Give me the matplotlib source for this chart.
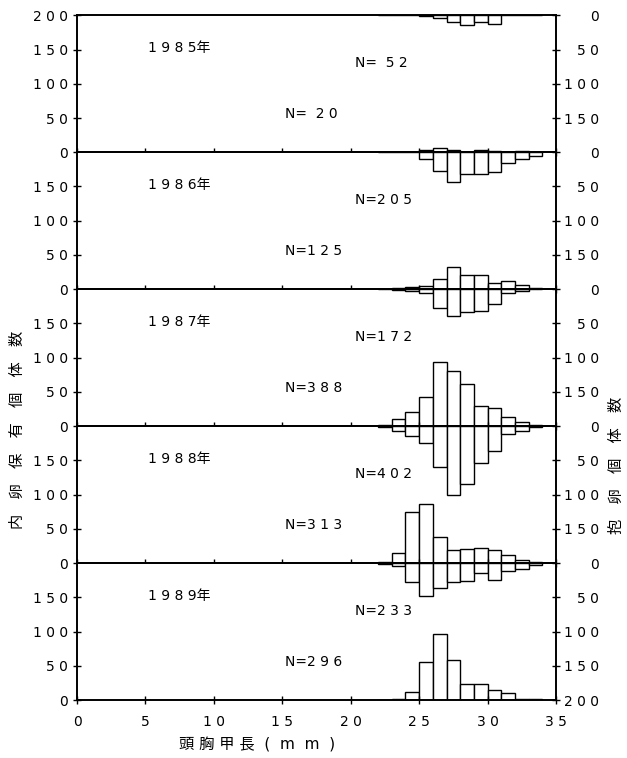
import numpy as np
import matplotlib.pyplot as plt

plt.rcParams['font.family'] = ['DejaVu Sans', 'Noto Sans CJK JP']
plt.rcParams['font.size'] = 10

years = ['1985', '1986', '1987', '1988', '1989']
bins = np.arange(22, 34)  # left edges of 1 mm classes

# 内卵保有個体数 (bars rising from the bottom of each panel, left axis)
inner = [
    [0, 0, 0, 3, 6, 3, 1, 3, 2, 0, 2, 0],
    [0, 1, 3, 5, 15, 32, 20, 20, 9, 12, 6, 2],
    [2, 10, 21, 43, 94, 80, 61, 30, 26, 13, 6, 2],
    [2, 14, 74, 86, 38, 19, 20, 22, 19, 12, 5, 2],
    [0, 1, 12, 55, 97, 58, 23, 23, 14, 10, 2, 1],
]
# 抱卵個体数 (bars hanging from the top of each panel, right axis)
berried = [
    [0, 0, 0, 1, 4, 10, 14, 10, 13, 0, 0, 0],
    [0, 0, 0, 10, 28, 44, 32, 32, 29, 15, 10, 5],
    [0, 1, 2, 6, 28, 39, 34, 32, 22, 6, 2, 0],
    [2, 7, 14, 25, 59, 100, 84, 54, 36, 12, 7, 2],
    [1, 4, 28, 48, 37, 27, 26, 15, 25, 11, 8, 3],
]
n_inner = [20, 125, 388, 313, 296]
n_berried = [52, 205, 172, 402, 233]


def spaced(s):
    return ' '.join(str(s))


def n_label(n):
    s = spaced(n)
    if n < 100:
        s = '  ' + s
    return 'N=' + s


cjk = ['Noto Sans CJK JP', 'DejaVu Sans']

fig, axes = plt.subplots(5, 1, sharex=True, figsize=(6.27, 7.58), dpi=100)
fig.subplots_adjust(left=77 / 627, right=556 / 627, top=1 - 15.3 / 758,
                    bottom=1 - 700 / 758, hspace=0)

for i, ax in enumerate(axes):
    up = np.array(inner[i])
    down = np.array(berried[i])
    ax.bar(bins, up, width=1, align='edge', color='white',
           edgecolor='black', linewidth=1.0)
    ax.bar(bins, down, width=1, align='edge', bottom=200 - down,
           color='white', edgecolor='black', linewidth=1.0)

    ax.set_xlim(0, 35)
    ax.set_ylim(0, 200)
    for sp in ax.spines.values():
        sp.set_linewidth(1.2)

    lticks = [0, 50, 100, 150] + ([200] if i == 0 else [])
    ax.set_yticks(lticks)
    ax.set_yticklabels([spaced(t) for t in lticks])
    ax.tick_params(axis='y', direction='inout', length=6, width=1)

    ax.set_xticks(range(0, 36, 5))
    ax.tick_params(axis='x', direction='inout', length=6, width=1, pad=8)

    tw = ax.twinx()
    tw.set_ylim(200, 0)
    rticks = [0, 50, 100, 150] + ([200] if i == 4 else [])
    tw.set_yticks(rticks)
    tw.set_yticklabels([spaced(t) for t in rticks])
    tw.tick_params(axis='y', direction='inout', length=6, width=1, pad=28)
    for lbl in tw.get_yticklabels():
        lbl.set_horizontalalignment('right')
    for sp in tw.spines.values():
        sp.set_linewidth(1.2)

    ax.text(5.2, 152, spaced(years[i]) + '年', va='center', ha='left')
    ax.text(20.3, 130, n_label(n_berried[i]), va='center', ha='left')
    ax.text(15.2, 56, n_label(n_inner[i]), va='center', ha='left')

axes[-1].set_xticklabels([spaced(t) for t in range(0, 36, 5)])

fig.text(17 / 627, 1 - 430 / 758, '内\u3000卵\u3000保\u3000有\u3000個\u3000体\u3000数',
         rotation=90, ha='center', va='center', fontsize=11, family=cjk)
fig.text(616 / 627, 1 - 465 / 758, '抱\u3000卵\u3000個\u3000体\u3000数',
         rotation=90, ha='center', va='center', fontsize=11, family=cjk)
fig.text(179 / 627, 1 - 745 / 758, '頭 胸 甲 長  (  m  m  )',
         ha='left', va='center', fontsize=11)

fig.savefig('out.png', dpi=100)
